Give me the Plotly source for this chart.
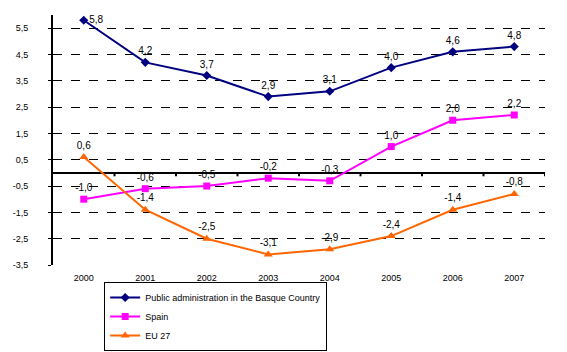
import plotly.graph_objects as go

years = ["2000", "2001", "2002", "2003", "2004", "2005", "2006", "2007"]
basque = [5.8, 4.2, 3.7, 2.9, 3.1, 4.0, 4.6, 4.8]
spain = [-1.0, -0.6, -0.5, -0.2, -0.3, 1.0, 2.0, 2.2]
eu27 = [0.6, -1.4, -2.5, -3.1, -2.9, -2.4, -1.4, -0.8]
names = ["Public administration in the Basque Country", "Spain", "EU 27"]
y_ticks = [5.5, 4.5, 3.5, 2.5, 1.5, 0.5, -0.5, -1.5, -2.5, -3.5]
y_min, y_max = -3.5, 6.0


def fmt(v):
    return f"{v:.1f}".replace(".", ",")


FONT = "Liberation Sans, Arial, sans-serif"
fig = go.Figure()

series = [
    (basque, names[0], "#000080", "diamond", 7),
    (spain, names[1], "#FF00FF", "square", 7),
    (eu27, names[2], "#FF6600", "triangle-up", 8),
]
for vals, nm, col, sym, ms in series:
    pos = ["top center"] * len(vals)
    if vals is basque:
        pos[0] = "middle right"
    fig.add_trace(go.Scatter(
        x=years, y=vals, name=nm, mode="lines+markers+text",
        line=dict(color=col, width=2),
        marker=dict(color=col, symbol=sym, size=ms),
        text=[fmt(v) for v in vals], textposition=pos,
        textfont=dict(family=FONT, size=10, color="black"),
        cliponaxis=False,
    ))

# small tick marks on the zero axis at category boundaries
for i in range(1, len(years) + 1):
    fig.add_shape(type="line", xref="x", yref="y", x0=i - 0.5, x1=i - 0.5,
                  y0=0, y1=-0.13, line=dict(color="black", width=2))

fig.update_layout(
    width=567, height=352,
    margin=dict(l=53, r=22, t=15, b=87, autoexpand=False),
    paper_bgcolor="white", plot_bgcolor="white",
    font=dict(family=FONT, size=9, color="black"),
    showlegend=True,
    legend=dict(
        x=0.104, y=-0.068, xanchor="left", yanchor="top",
        bordercolor="black", borderwidth=1, bgcolor="white",
        font=dict(family=FONT, size=9), tracegroupgap=0,
        itemwidth=30,
    ),
    xaxis=dict(
        type="category", range=[-0.5, 7.5], showline=False, showgrid=False,
        ticks="", tickfont=dict(family=FONT, size=9), zeroline=False,
        ticklabelstandoff=6,
    ),
    yaxis=dict(
        range=[y_min, y_max], tickmode="array", tickvals=y_ticks,
        ticktext=[fmt(v) for v in y_ticks],
        showline=True, linecolor="black", linewidth=2,
        ticks="outside", ticklen=3, tickwidth=1, tickcolor="black",
        showgrid=True, gridcolor="black", griddash="dash", gridwidth=1,
        zeroline=True, zerolinecolor="black", zerolinewidth=2,
        tickfont=dict(family=FONT, size=9), ticklabelstandoff=18,
    ),
)
fig.write_html("out.html")
